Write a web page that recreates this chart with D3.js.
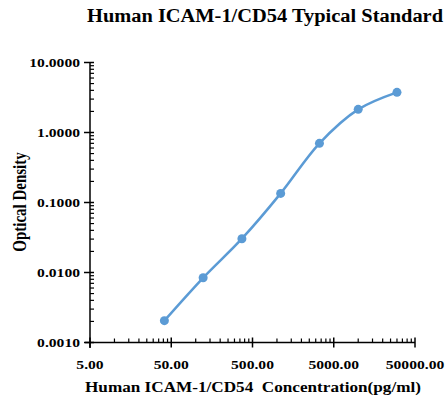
<!DOCTYPE html>
<html><head><meta charset="utf-8">
<script src="https://cdn.jsdelivr.net/npm/d3@7"></script>
<style>body{margin:0;background:#fff}text{font-family:"Liberation Serif","Times New Roman",serif;font-weight:bold;fill:#000}</style>
</head><body><svg id="c" width="447" height="401"></svg>
<script>
const concentrations = [41.15, 123.46, 370.37, 1111.11, 3333.33, 10000, 30000];
const odValues = [0.00205, 0.0084, 0.0304, 0.135, 0.70, 2.14, 3.75];
const xTickValues = [5, 50, 500, 5000, 50000];
const xTickLabels = ["5.00", "50.00", "500.00", "5000.00", "50000.00"];
const yTickValues = [0.001, 0.01, 0.1, 1, 10];
const yTickLabels = ["0.0010", "0.0100", "0.1000", "1.0000", "10.0000"];
const titleText = "Human ICAM-1/CD54 Typical Standard";
const xTitle = "Human ICAM-1/CD54  Concentration(pg/ml)";
const yTitle = "Optical Density";

const svg = d3.select("#c");
const x = d3.scaleLog().domain([5, 50000]).range([90, 415]);
const y = d3.scaleLog().domain([0.001, 10]).range([342.5, 62.5]);
const color = "#5b9bd5";
const stretch = 1.2;
function widen(sel){ sel.each(function(){ const w=this.getComputedTextLength(); d3.select(this).attr("textLength", w*stretch).attr("lengthAdjust","spacingAndGlyphs"); }); }

const xMinor = [];
xTickValues.slice(0,-1).forEach(b => { for (let k=2;k<=9;k++) xMinor.push(b*k); });
const yMinor = [];
yTickValues.slice(0,-1).forEach(b => { for (let k=2;k<=9;k++) yMinor.push(b*k); });

const g = svg.append("g");
const xg = g.append("g").attr("transform","translate(0,342.5)");
xg.append("line").attr("x1",85).attr("x2",415).attr("stroke","#000").attr("stroke-width",1.5);
xg.selectAll(".maj").data(xTickValues).join("line").attr("x1",d=>x(d)).attr("x2",d=>x(d)).attr("y1",-5).attr("y2",5).attr("stroke","#000").attr("stroke-width",1.5);
xg.selectAll(".min").data(xMinor).join("line").attr("x1",d=>x(d)).attr("x2",d=>x(d)).attr("y1",-4).attr("y2",0).attr("stroke","#000").attr("stroke-width",1.2);
xg.selectAll(".lab").data(xTickValues).join("text").attr("x",d=>x(d)).attr("y",26).attr("text-anchor","middle").attr("font-size",13).text((d,i)=>xTickLabels[i]).call(widen);

const yg = g.append("g").attr("transform","translate(90,0)");
yg.append("line").attr("y1",62.5).attr("y2",348).attr("stroke","#000").attr("stroke-width",1.5);
yg.selectAll(".maj").data(yTickValues).join("line").attr("y1",d=>y(d)).attr("y2",d=>y(d)).attr("x1",-6).attr("x2",4).attr("stroke","#000").attr("stroke-width",1.5);
yg.selectAll(".min").data(yMinor).join("line").attr("y1",d=>y(d)).attr("y2",d=>y(d)).attr("x1",0).attr("x2",4).attr("stroke","#000").attr("stroke-width",1.2);
yg.selectAll(".lab").data(yTickValues).join("text").attr("x",-10).attr("y",d=>y(d)+4.5).attr("text-anchor","end").attr("font-size",13).text((d,i)=>yTickLabels[i]).call(widen);

const pts = concentrations.map((c,i)=>[c, odValues[i]]);
g.append("path").datum(pts).attr("fill","none").attr("stroke",color).attr("stroke-width",2.5)
 .attr("d", d3.line().x(d=>x(d[0])).y(d=>y(d[1])).curve(d3.curveCatmullRom.alpha(0.5)));
g.selectAll(".pt").data(pts).join("circle").attr("cx",d=>x(d[0])).attr("cy",d=>y(d[1])).attr("r",4.5).attr("fill",color);

svg.append("text").attr("x",265).attr("y",22).attr("text-anchor","middle").attr("font-size",18).attr("textLength",356).attr("lengthAdjust","spacingAndGlyphs").text(titleText);
svg.append("text").attr("x",253).attr("y",392).attr("text-anchor","middle").attr("font-size",14.5).attr("textLength",336).attr("lengthAdjust","spacingAndGlyphs").style("white-space","pre").text(xTitle);
svg.append("text").attr("transform","translate(26,202) rotate(-90) scale(1,1.25)").attr("text-anchor","middle").attr("font-size",15).text(yTitle);
</script></body></html>
